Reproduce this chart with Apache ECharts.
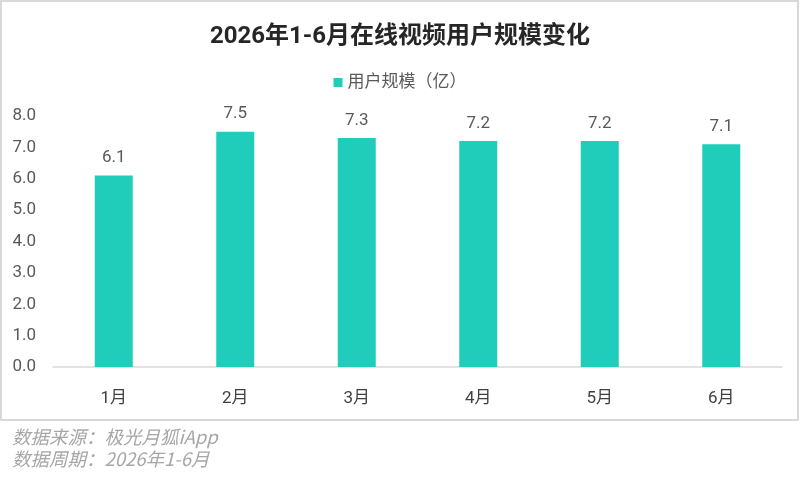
<!DOCTYPE html>
<html>
<head>
<meta charset="utf-8">
<script src="https://cdn.jsdelivr.net/npm/echarts@6/dist/echarts.min.js"></script>
<style>
  html, body { margin: 0; padding: 0; background: #fff; }
  #main { width: 800px; height: 482px; }
</style>
</head>
<body>
<div id="main"></div>
<script>
// 2026年1-6月在线视频用户规模（亿）
const months = ['1月', '2月', '3月', '4月', '5月', '6月'];
const users = [6.1, 7.5, 7.3, 7.2, 7.2, 7.1];
const seriesName = '用户规模（亿）';
const footnotes = ['数据来源：极光月狐iApp', '数据周期：2026年1-6月'];

const font = 'Roboto, "Noto Sans CJK SC", sans-serif';
const noteFont = '"Noto Sans CJK SC", sans-serif';
const chart = echarts.init(document.getElementById('main'));

chart.setOption({
    animation: false,
    textStyle: { fontFamily: font },
    title: {
        text: '2026年1-6月在线视频用户规模变化',
        left: 'center',
        top: 20,
        textStyle: { fontSize: 24, fontWeight: 'bold', color: '#262626', fontFamily: font },
    },
    legend: {
        top: 69,
        left: 'center',
        itemWidth: 9,
        itemHeight: 9,
        itemGap: 5,
        icon: 'rect',
        textStyle: { fontSize: 17, color: '#595959', fontFamily: font },
        data: [seriesName],
    },
    grid: { left: 53, right: 18, top: 116, bottom: 115 },
    xAxis: {
        type: 'category',
        data: months,
        axisLine: { lineStyle: { color: '#D9D9D9', width: 1.5 } },
        axisTick: { show: false },
        axisLabel: { fontSize: 17, color: '#404040', margin: 23, fontFamily: font },
    },
    yAxis: {
        type: 'value',
        min: 0,
        max: 8,
        interval: 1,
        splitLine: { show: false },
        axisLine: { show: false },
        axisTick: { show: false },
        axisLabel: {
            fontSize: 17,
            color: '#595959',
            margin: 17,
            fontFamily: font,
            formatter: v => v.toFixed(1),
        },
    },
    graphic: [
        {
            type: 'rect',
            shape: { x: 1, y: 1, width: 797, height: 419 },
            style: { fill: 'none', stroke: '#D9D9D9', lineWidth: 2 },
            silent: true,
        },
        {
            type: 'text',
            left: 12,
            top: 428,
            style: { text: footnotes[0], fontSize: 18.5, fontStyle: 'italic', fill: '#A6A6A6', fontFamily: noteFont },
        },
        {
            type: 'text',
            left: 12,
            top: 450,
            style: { text: footnotes[1], fontSize: 18.5, fontStyle: 'italic', fill: '#A6A6A6', fontFamily: noteFont },
        },
    ],
    series: [
        {
            name: seriesName,
            type: 'bar',
            data: users,
            barWidth: 38,
            itemStyle: { color: '#20CDBB' },
            label: {
                show: true,
                position: 'top',
                distance: 9,
                fontSize: 17,
                color: '#595959',
                fontFamily: font,
                formatter: p => p.value.toFixed(1),
            },
        },
    ],
});

window.addEventListener('resize', chart.resize);
</script>
</body>
</html>
